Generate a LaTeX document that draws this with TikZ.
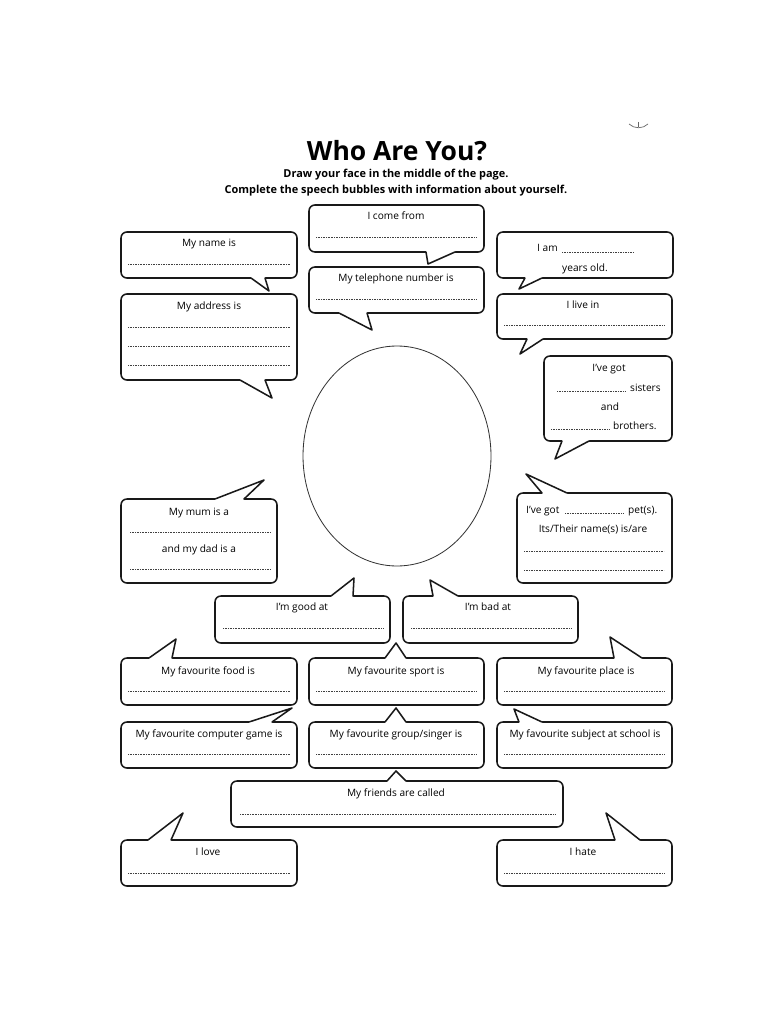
\documentclass[tikz,border=0pt]{standalone}
\usepackage{fontspec}
\setmainfont{Open Sans}
\usetikzlibrary{calc}
\tikzset{
  bub/.style={draw=black!90, line width=1.3pt, line join=round, line cap=round},
  lbl/.style={inner sep=0pt, anchor=base, font=\fontsize{8.6}{10}\selectfont},
  dotl/.style={line width=0.6pt, dash pattern=on 0.55pt off 0.85pt, black!75},
}
\newcommand\btail[4]{\fill[white] ($#1+#4$) -- #1 -- #2 -- #3 -- ($#3+#4$) -- cycle; \draw[bub] #1 -- #2 -- #3;}
\newcommand\bbox[2]{\draw[bub, rounded corners=5pt] #1 rectangle #2;}
\begin{document}
\begin{tikzpicture}[x=0.85pt, y=-0.85pt]
\useasboundingbox[fill=white] (0,0) rectangle (768,1024);

% title
\node[inner sep=0pt, anchor=base, font=\fontsize{22.5}{26}\bfseries\selectfont] (title) at (397,161) {Who Are You?};
\node[lbl, font=\fontsize{9.3}{11}\bfseries\selectfont] (sub1) at (396,178) {Draw your face in the middle of the page.};
\node[lbl, font=\fontsize{9.3}{11}\bfseries\selectfont] (sub2) at (396,194) {Complete the speech bubbles with information about yourself.};
\draw[line width=0.6pt, black!60] (629,124) .. controls (634,129) and (643,129) .. (648,124);
\draw[line width=0.5pt, black!60] (638,122) -- (638,127);

% 1 My name is
\bbox{(121,232)}{(297,278)}
\btail{(251,278)}{(269,291)}{(265,278)}{(0,-2)}
\node[lbl] (name) at (209,246.5) {My name is};
\draw[dotl] (128,264) -- (290,264);

% 2 I come from
\bbox{(309,205)}{(484,252)}
\btail{(426,252)}{(428,264)}{(455,252)}{(0,-2)}
\node[lbl] (come) at (396,219.5) {I come from};
\draw[dotl] (316,237) -- (477,237);

% 3 I am
\bbox{(497,232)}{(673,278)}
\btail{(542,278)}{(519,289)}{(525,278)}{(0,-2)}
\node[lbl, anchor=base west] (iam) at (537,252) {I am};
\draw[dotl] (562,252) -- (634,252);
\node[lbl] (years) at (585,271.5) {years old.};

% 4 telephone
\bbox{(309,267)}{(484,313)}
\btail{(339,313)}{(372,330)}{(367,313)}{(0,-2)}
\node[lbl] (tel) at (396,281.5) {My telephone number is};
\draw[dotl] (316,299) -- (477,299);

% 5 address
\bbox{(121,294)}{(297,380)}
\btail{(240,380)}{(272,398)}{(265,380)}{(0,-2)}
\node[lbl] (addr) at (209,309.5) {My address is};
\draw[dotl] (128,327) -- (290,327);
\draw[dotl] (128,346) -- (290,346);
\draw[dotl] (128,365) -- (290,365);

% 6 I live in
\bbox{(497,294)}{(672,339)}
\btail{(543,339)}{(520,354)}{(527,339)}{(0,-2)}
\node[lbl] (live) at (583,308.5) {I live in};
\draw[dotl] (504,325) -- (665,325);

% 7 sisters
\bbox{(544,356)}{(672,441)}
\btail{(589,441)}{(555,459)}{(562,441)}{(0,-2)}
\node[lbl] (got1) at (609,371.5) {I've got};
\draw[dotl] (557,391) -- (626,391);
\node[lbl, anchor=base west] (sis) at (630,391) {sisters};
\node[lbl] (and) at (610,410.5) {and};
\draw[dotl] (551,429) -- (609,429);
\node[lbl, anchor=base west] (bro) at (613,429) {brothers.};

% 8 face
\draw[line width=0.7pt, black!80] (397,456) ellipse [x radius=94, y radius=110];

% 9 mum
\bbox{(121,499)}{(277,583)}
\btail{(215,499)}{(264,480)}{(244,499)}{(0,2)}
\node[lbl] (mum) at (199,515) {My mum is a};
\draw[dotl] (130,532) -- (271,532);
\node[lbl] (dad) at (199,552.5) {and my dad is a};
\draw[dotl] (130,569) -- (271,569);

% 10 pets
\bbox{(517,493)}{(672,583)}
\btail{(567,493)}{(526,474)}{(542,493)}{(0,2)}
\node[lbl, anchor=base west] (got2) at (526,513.5) {I've got};
\draw[dotl] (565,513.5) -- (624,513.5);
\node[lbl, anchor=base west] (pets) at (628,513.5) {pet(s).};
\node[lbl] (their) at (593,532.5) {Its/Their name(s) is/are};
\draw[dotl] (524,551) -- (664,551);
\draw[dotl] (524,570) -- (664,570);

% 11 good at
\bbox{(215,596)}{(390,643)}
\btail{(331,596)}{(354,578)}{(353,596)}{(0,2)}
\node[lbl] (good) at (302,610.5) {I'm good at};
\draw[dotl] (223,628) -- (383,628);

% 12 bad at
\bbox{(403,596)}{(578,643)}
\btail{(458,596)}{(430,580)}{(433,596)}{(0,2)}
\node[lbl] (bad) at (488,610.5) {I'm bad at};
\draw[dotl] (411,628) -- (571,628);

% 13 food
\bbox{(121,658)}{(297,705)}
\btail{(149,658)}{(176,639)}{(172,658)}{(0,2)}
\node[lbl] (food) at (208,674.5) {My favourite food is};
\draw[dotl] (128,691) -- (290,691);

% 14 sport
\bbox{(309,658)}{(484,705)}
\btail{(385,658)}{(396,643)}{(406,658)}{(0,2)}
\node[lbl] (sport) at (396,674.5) {My favourite sport is};
\draw[dotl] (316,691) -- (477,691);

% 15 place
\bbox{(497,658)}{(672,705)}
\btail{(642,658)}{(610,637)}{(614,658)}{(0,2)}
\node[lbl] (place) at (586,674.5) {My favourite place is};
\draw[dotl] (504,691) -- (665,691);

% 16 game
\bbox{(121,722)}{(297,768)}
\btail{(249,722)}{(292,708)}{(272,722)}{(0,2)}
\node[lbl] (game) at (209,737.5) {My favourite computer game is};
\draw[dotl] (128,754) -- (290,754);

% 17 group
\bbox{(309,722)}{(484,768)}
\btail{(385,722)}{(396,708)}{(406,722)}{(0,2)}
\node[lbl] (group) at (396,737.5) {My favourite group/singer is};
\draw[dotl] (316,754) -- (477,754);

% 18 subject
\bbox{(497,722)}{(672,768)}
\btail{(542,722)}{(514,709)}{(519,722)}{(0,2)}
\node[lbl] (subject) at (585,737.5) {My favourite subject at school is};
\draw[dotl] (504,754) -- (665,754);

% 19 friends
\bbox{(231,781)}{(563,827)}
\btail{(387,781)}{(396,771)}{(406,781)}{(0,2)}
\node[lbl] (friends) at (396,796.5) {My friends are called};
\draw[dotl] (240,814) -- (556,814);

% 20 love
\bbox{(121,840)}{(297,886)}
\btail{(148,840)}{(183,813)}{(171,840)}{(0,2)}
\node[lbl] (love) at (208,855.5) {I love};
\draw[dotl] (128,873) -- (290,873);

% 21 hate
\bbox{(497,840)}{(672,886)}
\btail{(640,840)}{(606,813)}{(615,840)}{(0,2)}
\node[lbl] (hate) at (583,855.5) {I hate};
\draw[dotl] (504,873) -- (665,873);
\end{tikzpicture}
\end{document}
